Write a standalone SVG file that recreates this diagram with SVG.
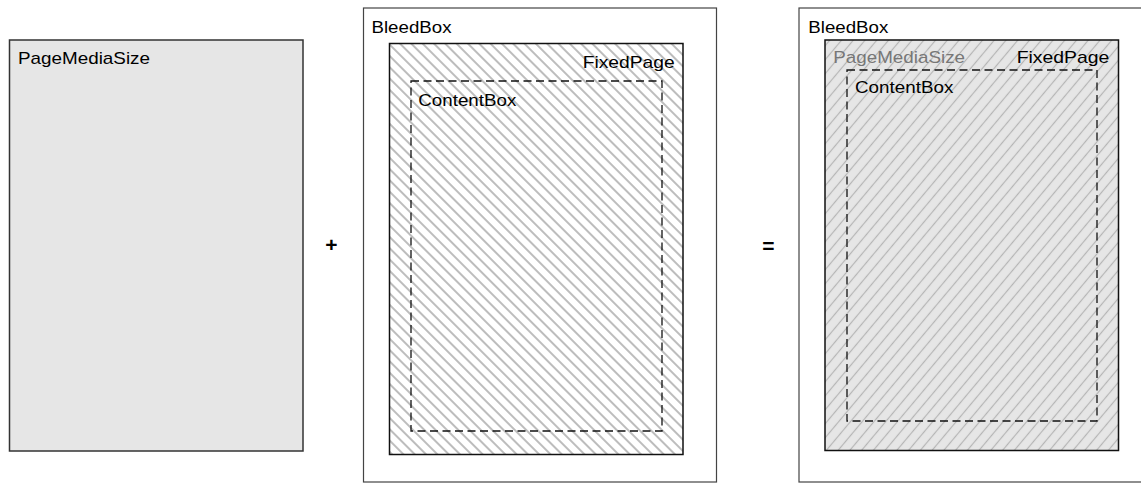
<svg xmlns="http://www.w3.org/2000/svg" width="1141" height="483" viewBox="0 0 1141 483">
<style>
text{font-family:"Liberation Sans",Arial,sans-serif;font-size:17px;fill:#000}
.bleed{fill:#fff;stroke:#444;stroke-width:1.2}
.fixed{stroke:#111;stroke-width:1.5}
.content{fill:none;stroke:#111;stroke-width:1.3;stroke-dasharray:8 4.5}
.media{fill:#e6e6e6;stroke:#333;stroke-width:1.5}
.op{font-size:21px}
</style>
<defs>
<pattern id="hatchA" patternUnits="userSpaceOnUse" width="8" height="8" patternTransform="rotate(45)">
<rect width="8" height="8" fill="#fff"/>
<line x1="0" y1="4" x2="8" y2="4" stroke="#999" stroke-width="1.3"/>
</pattern>
<pattern id="hatchB" patternUnits="userSpaceOnUse" width="9" height="9" patternTransform="rotate(-50)">
<rect width="9" height="9" fill="#e6e6e6"/>
<line x1="0" y1="4.5" x2="9" y2="4.5" stroke="#b5b5b5" stroke-width="1.2"/>
</pattern>
</defs>
<g id="page-media-size">
<rect class="media" x="9.5" y="40" width="293.5" height="411"/>
<text x="18" y="64.3" textLength="132" lengthAdjust="spacingAndGlyphs">PageMediaSize</text>
</g>
<g id="plus"><text class="op" x="331.5" y="252" text-anchor="middle" font-weight="bold">+</text></g>
<g id="bleed-mid">
<rect class="bleed" x="363.5" y="8" width="353" height="474"/>
<text x="371.5" y="33.3" textLength="80" lengthAdjust="spacingAndGlyphs">BleedBox</text>
</g>
<g id="fixed-mid">
<rect class="fixed" x="389.5" y="43.5" width="293.5" height="411" fill="url(#hatchA)"/>
<text x="582.7" y="68.3" textLength="92" lengthAdjust="spacingAndGlyphs">FixedPage</text>
</g>
<g id="content-mid">
<rect class="content" x="411" y="81" width="251" height="350"/>
<text x="418.3" y="106" textLength="98" lengthAdjust="spacingAndGlyphs">ContentBox</text>
</g>
<g id="equals"><text class="op" x="768.5" y="253" text-anchor="middle" font-weight="bold">=</text></g>
<g id="bleed-right">
<rect class="bleed" x="799" y="8" width="360" height="474"/>
<text x="808.3" y="33.3" textLength="80" lengthAdjust="spacingAndGlyphs">BleedBox</text>
</g>
<g id="fixed-right">
<rect class="fixed" x="825" y="40" width="293.5" height="410.5" fill="url(#hatchB)"/>
<text x="833.3" y="63.3" textLength="131.7" lengthAdjust="spacingAndGlyphs" style="fill:#777">PageMediaSize</text>
<text x="1016.7" y="63.3" textLength="92.6" lengthAdjust="spacingAndGlyphs">FixedPage</text>
</g>
<g id="content-right">
<rect class="content" x="847" y="70" width="250" height="351"/>
<text x="855" y="93.3" textLength="98.3" lengthAdjust="spacingAndGlyphs">ContentBox</text>
</g>
<g id="connectors"></g>
</svg>
